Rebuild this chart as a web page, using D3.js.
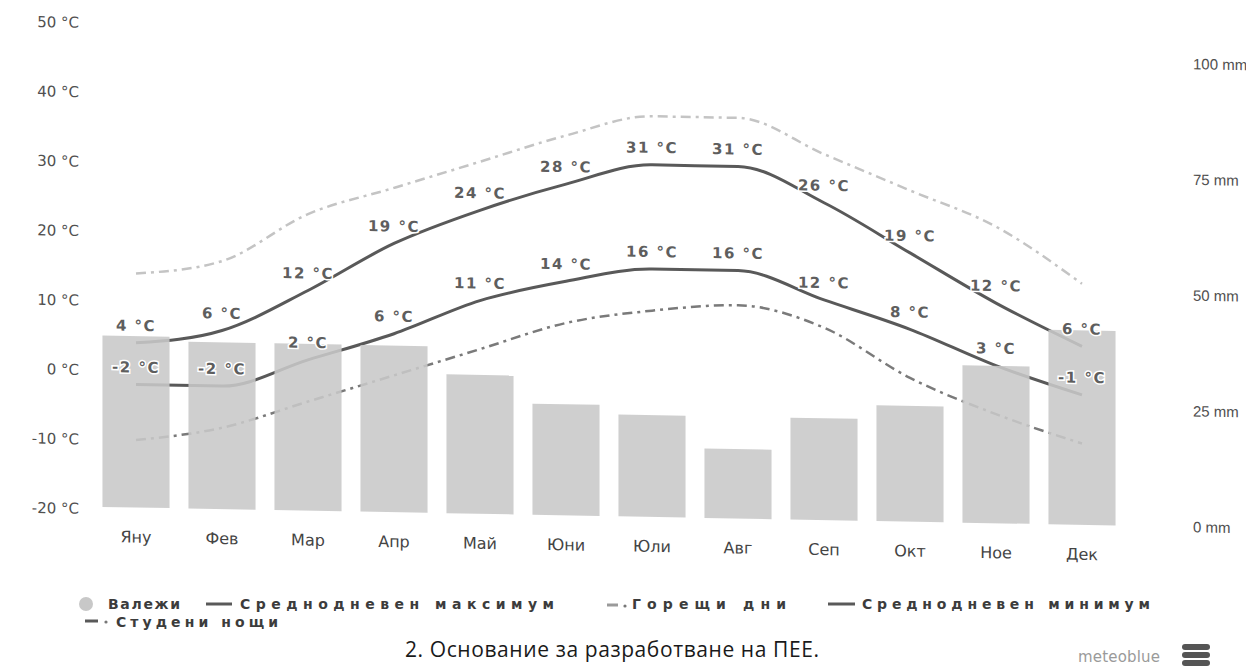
<!DOCTYPE html>
<html>
<head>
<meta charset="utf-8">
<script src="https://cdn.jsdelivr.net/npm/d3@7/dist/d3.min.js"></script>
<style>
  body { margin: 0; background: #fff; }
  svg { display: block; font-family: "DejaVu Sans", sans-serif; }
</style>
</head>
<body>
<svg width="1246" height="670"></svg>
<script>
// Данни, отчетени от графиката
const months = ["Яну", "Фев", "Мар", "Апр", "Май", "Юни", "Юли", "Авг", "Сеп", "Окт", "Ное", "Дек"];
const precipitation = [37, 36, 36, 36, 30, 24, 22, 15, 22, 25, 34, 42];      // mm
const maxTemp = [4, 6, 12, 19, 24, 28, 31, 31, 26, 19, 12, 6];                // °C
const minTemp = [-2, -2, 2, 6, 11, 14, 16, 16, 12, 8, 3, -1];                 // °C
const hotDays = [14, 16, 23, 27, 31, 35, 38, 38, 33, 28, 23, 15];             // °C
const coldNights = [-10, -8, -4, 0, 4, 8, 10, 11, 8, 1, -4, -8];              // °C
const tempTicks = [50, 40, 30, 20, 10, 0, -10, -20];
const precipTicks = [0, 25, 50, 75, 100];

const width = 1246, height = 670;
const svg = d3.select("svg");

svg.append("rect").attr("width", width).attr("height", height).attr("fill", "#fff");

// сканираното изображение е леко наклонено
const chart = svg.append("g").attr("transform", "skewY(1.05)");

// Скали
const x = d3.scaleBand()
    .domain(months)
    .range([93, 1125])
    .paddingInner(0.22)
    .paddingOuter(0.11);

const yT = d3.scaleLinear()
    .domain([-20, 50])
    .range([507, 21]);

const yP = d3.scaleLinear()
    .domain([0, 100])
    .range([505, 42]);

const cx = m => x(m) + x.bandwidth() / 2;

// Ос за температура (лява)
const leftAxis = chart.append("g")
    .attr("transform", "translate(79,0)")
    .call(d3.axisLeft(yT).tickValues(tempTicks).tickSize(0).tickPadding(0)
        .tickFormat(d => d + " °C"));
leftAxis.select(".domain").remove();
leftAxis.selectAll("text")
    .style("font-family", "DejaVu Sans")
    .style("font-size", "15px")
    .style("fill", "#505050");

// Ос за валежи (дясна)
const rightAxis = chart.append("g")
    .attr("transform", "translate(1193,0)")
    .call(d3.axisRight(yP).tickValues(precipTicks).tickSize(0).tickPadding(0)
        .tickFormat(d => d + " mm"));
rightAxis.select(".domain").remove();
rightAxis.selectAll("text")
    .style("font-family", "Liberation Sans")
    .style("font-size", "15px")
    .style("fill", "#505050");

// Линии
const line = (arr) => d3.line()
    .x((d, i) => cx(months[i]))
    .y(d => yT(d))
    .curve(d3.curveMonotoneX)(arr);

chart.append("path")
    .attr("d", line(hotDays))
    .attr("fill", "none")
    .attr("stroke", "#c4c4c4")
    .attr("stroke-width", 2.5)
    .attr("stroke-dasharray", "10,5,3,5");

chart.append("path")
    .attr("d", line(coldNights))
    .attr("fill", "none")
    .attr("stroke", "#7a7a7a")
    .attr("stroke-width", 2.5)
    .attr("stroke-dasharray", "10,5,3,5");

chart.append("path")
    .attr("d", line(maxTemp))
    .attr("fill", "none")
    .attr("stroke", "#595959")
    .attr("stroke-width", 3);

chart.append("path")
    .attr("d", line(minTemp))
    .attr("fill", "none")
    .attr("stroke", "#595959")
    .attr("stroke-width", 3);

// Стълбове за валежи
chart.selectAll("rect.bar")
    .data(precipitation)
    .enter().append("rect")
    .attr("class", "bar")
    .attr("x", (d, i) => x(months[i]))
    .attr("y", d => yP(d))
    .attr("width", x.bandwidth())
    .attr("height", d => yP(0) - yP(d))
    .attr("fill", "#c8c8c8")
    .attr("fill-opacity", 0.88);

// Месеци
chart.selectAll("text.month")
    .data(months)
    .enter().append("text")
    .attr("class", "month")
    .attr("x", d => cx(d))
    .attr("y", 540)
    .attr("text-anchor", "middle")
    .style("font-size", "16px")
    .style("fill", "#444")
    .text(d => d);

// Етикети на стойностите
function labels(arr, cls) {
    chart.selectAll("text." + cls)
        .data(arr)
        .enter().append("text")
        .attr("class", cls)
        .attr("x", (d, i) => cx(months[i]))
        .attr("y", d => yT(d) - 12)
        .attr("text-anchor", "middle")
        .style("font-size", "15px")
        .style("font-weight", "bold")
        .style("letter-spacing", "1.5px")
        .style("fill", "#5e5e5e")
        .style("stroke", "#fff")
        .style("stroke-width", 3)
        .style("paint-order", "stroke")
        .text(d => d + " °C");
}
labels(maxTemp, "maxLabel");
labels(minTemp, "minLabel");

// Легенда
const legend = svg.append("g").style("font-weight", "bold").style("font-size", "14px").style("fill", "#3c3c3c");

legend.append("circle").attr("cx", 86).attr("cy", 604).attr("r", 7).attr("fill", "#c8c8c8");
legend.append("text").attr("x", 108).attr("y", 609).attr("textLength", 72).text("Валежи");

legend.append("line").attr("x1", 206).attr("x2", 232).attr("y1", 604).attr("y2", 604)
    .attr("stroke", "#595959").attr("stroke-width", 3);
legend.append("text").attr("x", 240).attr("y", 609).attr("textLength", 314).text("Среднодневен максимум");

legend.append("line").attr("x1", 607).attr("x2", 618).attr("y1", 605).attr("y2", 605)
    .attr("stroke", "#9a9a9a").attr("stroke-width", 3);
legend.append("circle").attr("cx", 625).attr("cy", 606).attr("r", 1.6).attr("fill", "#777");
legend.append("text").attr("x", 632).attr("y", 609).attr("textLength", 154).text("Горещи дни");

legend.append("line").attr("x1", 828).attr("x2", 855).attr("y1", 604).attr("y2", 604)
    .attr("stroke", "#595959").attr("stroke-width", 3);
legend.append("text").attr("x", 862).attr("y", 609).attr("textLength", 288).text("Среднодневен минимум");

legend.append("line").attr("x1", 85).attr("x2", 98).attr("y1", 621).attr("y2", 621)
    .attr("stroke", "#595959").attr("stroke-width", 3);
legend.append("circle").attr("cx", 106).attr("cy", 622).attr("r", 1.6).attr("fill", "#777");
legend.append("text").attr("x", 116).attr("y", 627).attr("textLength", 162).text("Студени нощи");

// Надпис под графиката
svg.append("text")
    .attr("x", 612)
    .attr("y", 657)
    .attr("text-anchor", "middle")
    .attr("textLength", 414)
    .style("font-family", "Open Sans")
    .style("font-size", "21px")
    .style("fill", "#1a1a1a")
    .text("2. Основание за разработване на ПЕЕ.");

// meteoblue лого
svg.append("text")
    .attr("x", 1078)
    .attr("y", 662)
    .attr("textLength", 82)
    .style("font-size", "15px")
    .style("fill", "#9a9a9a")
    .text("meteoblue");

const logo = svg.append("g").attr("transform", "translate(1182,644)");
[0, 8, 16].forEach(d => {
    logo.append("rect").attr("x", 0).attr("y", d).attr("width", 28).attr("height", 6)
        .attr("rx", 3).attr("fill", "#555");
});
</script>
</body>
</html>
